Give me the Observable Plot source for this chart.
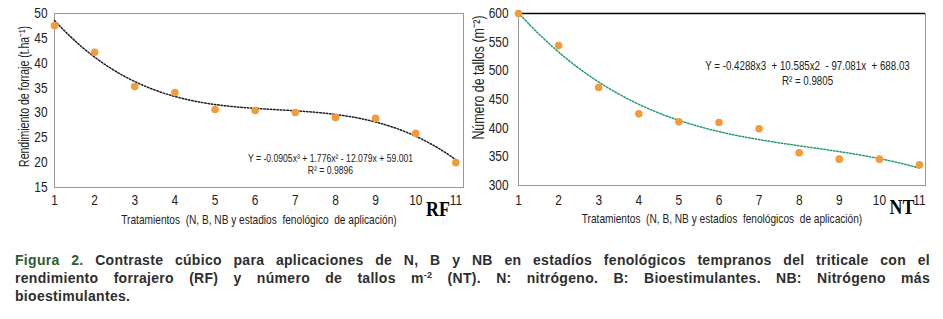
<!DOCTYPE html>
<html><head><meta charset="utf-8">
<script src="https://cdn.jsdelivr.net/npm/d3@7"></script>
<script src="https://cdn.jsdelivr.net/npm/@observablehq/plot@0.6"></script>
<style>
body{margin:0;background:#fff;width:943px;height:319px;overflow:hidden;position:relative}
#left{position:absolute;left:0;top:0}
#right{position:absolute;left:460px;top:0}
svg{overflow:visible}
#cap{position:absolute;left:15px;top:251px;width:915px;font:bold 14px "Liberation Sans",Arial,sans-serif;line-height:18px;color:#2e2e2e;letter-spacing:0.3px}
#cap div{white-space:nowrap}
#cap .j{text-align:justify;text-align-last:justify}
#cap b{color:#2b5e36}
#cap sup{font-size:9px;vertical-align:5px;line-height:0}
</style></head><body>
<div id="left"></div><div id="right"></div>
<div id="cap">
<div class="j"><b>Figura 2.</b> Contraste cúbico para aplicaciones de N, B y NB en estadíos fenológicos tempranos del triticale con el</div>
<div class="j">rendimiento forrajero (RF) y número de tallos m<sup>-2</sup> (NT). N: nitrógeno. B: Bioestimulantes. NB: Nitrógeno más</div>
<div>bioestimulantes.</div>
</div>
<script>
// ---- data ----
const treatments = [1, 2, 3, 4, 5, 6, 7, 8, 9, 10, 11];
const rfValues = [47.6, 42.2, 35.3, 34.1, 30.7, 30.5, 30.1, 29.1, 28.9, 25.9, 20.0];
const ntValues = [600, 544, 471, 425, 411, 410, 399, 357, 346, 346, 336];
// printed cubic trend-line coefficients [x^3, x^2, x, const]
const rfCoef = [-0.0905, 1.776, -12.079, 59.001];
const ntCoef = [-0.4288, 10.585, -97.081, 688.03];
const xTicks = [1, 2, 3, 4, 5, 6, 7, 8, 9, 10, 11];
const rfTicks = [15, 20, 25, 30, 35, 40, 45, 50];
const ntTicks = [300, 350, 400, 450, 500, 550, 600];
const rfEquation = ["Y = -0.0905x³ + 1.776x² - 12.079x + 59.001", "R² = 0.9896"];
const ntEquation = ["Y = -0.4288x3\u00a0\u00a0+ 10.585x2\u00a0\u00a0- 97.081x\u00a0\u00a0+ 688.03", "R² = 0.9805"];
const rfYLabel = "Rendimiento de forraje (t.ha⁻¹)";
const ntYLabel = "Número de tallos (m⁻²)";
const rfXLabel = "Tratamientos\u00a0 (N, B, NB y estadios\u00a0 fenológico\u00a0 de aplicación)";
const ntXLabel = "Tratamientos\u00a0 (N, B, NB y estadios\u00a0 fenológicos\u00a0 de aplicación)";

const sans = '"Liberation Sans",Arial,sans-serif';
const poly = (c, x) => c[0]*x*x*x + c[1]*x*x + c[2]*x + c[3];
const trend = (c) => d3.range(1, 11.0001, 0.05).map(x => ({x, y: poly(c, x)}));
const pts = (vals) => treatments.map((t, i) => ({x: t, y: vals[i]}));

function chart(o) {
  const t = (s, opts) => Plot.text([s], {text: d => d, lineAnchor: "middle", ...opts});
  return Plot.plot({
    width: o.width, height: 230,
    marginLeft: o.ml, marginRight: o.mr, marginTop: 13, marginBottom: o.mb,
    style: {fontFamily: sans, fontSize: "14px", color: "#222", background: "transparent", overflow: "visible"},
    x: {domain: o.xdom},
    y: {domain: o.ydom},
    marks: [
      Plot.frame({stroke: "#999", strokeWidth: 1}),
      o.topRule ? Plot.ruleY([o.ydom[1]], {stroke: "#000", strokeWidth: 1.5}) : null,
      Plot.line(trend(o.coef), {x: "x", y: "y", stroke: o.lineColor, strokeWidth: 1.5, strokeDasharray: "1.5,1.8"}),
      Plot.dot(pts(o.values), {x: "x", y: "y", r: 3.8, fill: "#F29B3A"}),
      Plot.axisX({ticks: xTicks, tickSize: 0, tickPadding: o.xpad, label: null, tickFormat: d => d}),
      Plot.axisY({ticks: o.yticks, tickSize: 0, tickPadding: o.ypad, label: null}),
      t(o.xlabel, {frameAnchor: "bottom", dy: o.xldy, fontSize: 13.5}),
      t(o.ylabel, {frameAnchor: "left", rotate: -90, textAnchor: "middle", dx: o.yldx, dy: o.yldy, fontSize: o.ylfs}),
      t(o.eq[0], {frameAnchor: o.eqAnchor, dx: o.eqdx, dy: o.eqdy, fontSize: o.eqfs, textAnchor: "middle"}),
      t(o.eq[1], {frameAnchor: o.eqAnchor, dx: o.eqdx, dy: o.eqdy + o.eqgap, fontSize: o.eqfs, textAnchor: "middle"}),
      t(o.tag, {frameAnchor: "bottom-right", dx: o.tagdx, dy: 22, fontSize: 21, fontWeight: "bold", fontFamily: '"Liberation Serif","Times New Roman",serif', textAnchor: "middle", fill: "#000"})
    ]
  });
}

// emulate the narrow (Arial Narrow-like) face of the original
function narrow(svg) {
  svg.querySelectorAll("text").forEach(el => {
    if (el.querySelector("tspan")) return;
    const fam = el.getAttribute("font-family") || "";
    if (fam.includes("Serif")) return;
    const f = el.textContent.length <= 3 ? 0.85 : 0.75;
    const len = el.getComputedTextLength();
    if (len > 0) {
      el.setAttribute("textLength", (len * f).toFixed(2));
      el.setAttribute("lengthAdjust", "spacingAndGlyphs");
    }
  });
}

const left = chart({
  width: 470, ml: 54, mr: 7, mb: 43, xdom: [1, 11.19], ydom: [15, 50],
  coef: rfCoef, values: rfValues, lineColor: "#1b1b2e", yticks: rfTicks,
  xpad: 8, ypad: 7, xlabel: rfXLabel, xldy: 32,
  ylabel: rfYLabel, yldx: -30, yldy: -4, ylfs: 14,
  eq: rfEquation, eqAnchor: "bottom-right", eqdx: -133, eqdy: -29, eqgap: 12, eqfs: 11.5,
  tag: "RF", tagdx: -25.5, topRule: false
});
document.getElementById("left").append(left);
narrow(left);

const right = chart({
  width: 483, ml: 58, mr: 18, mb: 45, xdom: [1, 11.15], ydom: [300, 600],
  coef: ntCoef, values: ntValues, lineColor: "#1f9a6e", yticks: ntTicks,
  xpad: 10, ypad: 10, xlabel: ntXLabel, xldy: 33,
  ylabel: ntYLabel, yldx: -40, yldy: -22, ylfs: 16.5,
  eq: ntEquation, eqAnchor: "top-right", eqdx: -118, eqdy: 52, eqgap: 15, eqfs: 13,
  tag: "NT", tagdx: -23.5, topRule: true
});
document.getElementById("right").append(right);
narrow(right);
</script>
</body></html>
